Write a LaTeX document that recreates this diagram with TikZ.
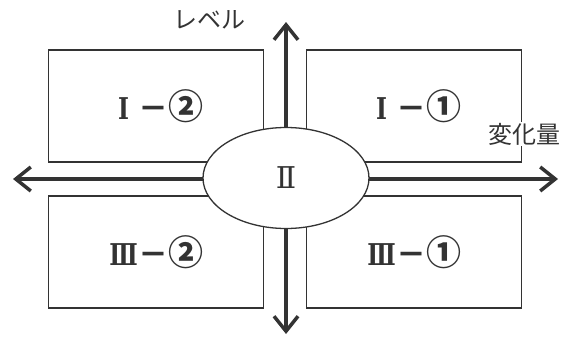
\documentclass[tikz,border=0pt]{standalone}
\usepackage{fontspec}
\usepackage{graphicx}
\setmainfont{Noto Sans CJK JP}
\newfontfamily\numfont{DejaVu Serif}
\usetikzlibrary{arrows.meta,shapes.geometric}
\definecolor{ink}{HTML}{333333}
\newcommand{\rnum}[1]{\makebox[1em]{\scalebox{0.78}[1]{\numfont\bfseries #1}}}
\newcommand{\cnum}[1]{{\fontsize{35}{35}\selectfont #1}}
\begin{document}
\begin{tikzpicture}[x=1pt,y=-1pt,
  zone/.style={draw=ink,line width=1.3pt,minimum width=215pt,minimum height=112pt,
    font=\fontsize{30}{32}\selectfont\bfseries,text=ink,inner sep=0pt},
  core/.style={ellipse,draw=ink,line width=1.3pt,fill=white,minimum width=166pt,
    minimum height=101pt,font=\fontsize{30}{32}\selectfont,text=ink},
  axis/.style={draw=ink,line width=3.5pt,
    {Straight Barb[length=15pt,width=24pt]}-{Straight Barb[length=15pt,width=24pt]}},
  tag/.style={text=ink,font=\fontsize{24}{26}\selectfont,inner sep=1pt}]
\useasboundingbox (0,0) rectangle (570,340);
% quadrants
\node[zone] (q12) at (156,106) {\rnum{Ⅰ}－\cnum{②}};
\node[zone] (q11) at (414,106) {\rnum{Ⅰ}－\cnum{①}};
\node[zone] (q32) at (156,252) {\rnum{Ⅲ}－\cnum{②}};
\node[zone] (q31) at (414,252) {\rnum{Ⅲ}－\cnum{①}};
% axes
\coordinate (west) at (13,179);
\coordinate (east) at (558,179);
\coordinate (top) at (286,22);
\coordinate (bottom) at (286,334);
\draw[axis] (west) -- (east);
\draw[axis] (bottom) -- (top);
\node[core] (mid) at (286,178) {{\numfont Ⅱ}};
% axis labels
\node[tag] (lvl) at (209,20) {レベル};
\node[tag,fill=white] (chg) at (524,134) {変化量};
\end{tikzpicture}
\end{document}
